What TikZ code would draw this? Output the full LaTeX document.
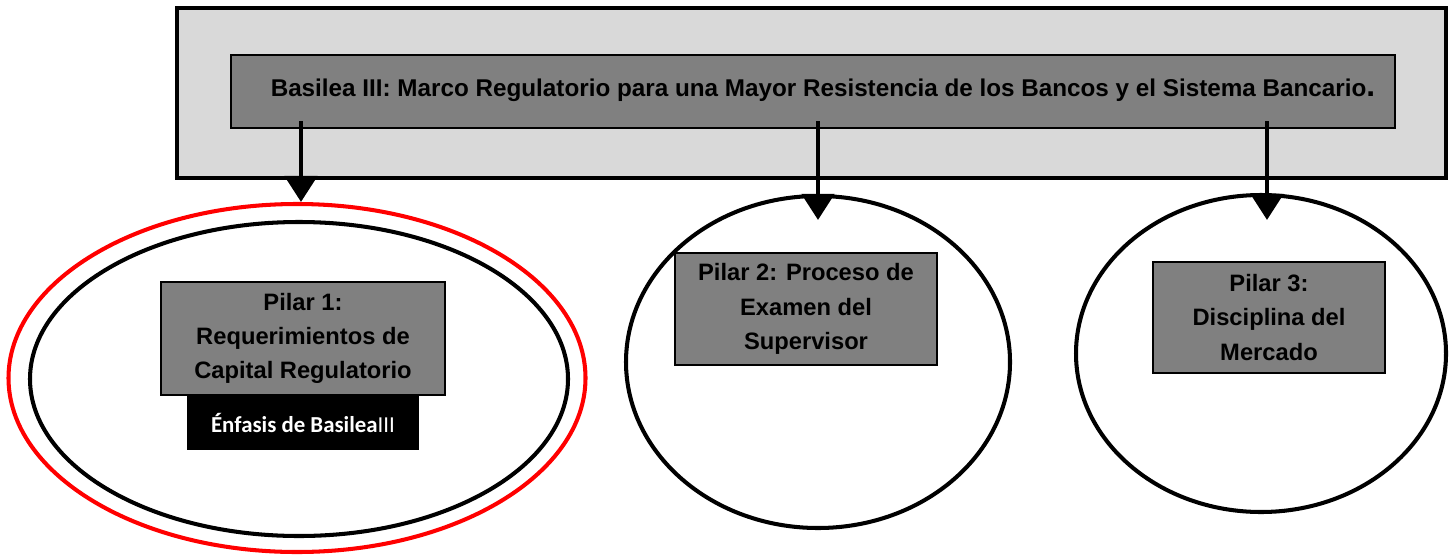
\documentclass[tikz,border=0pt]{standalone}
\usepackage{fontspec}
\setmainfont{Liberation Sans}
\newfontfamily\calfont{Carlito}
\usetikzlibrary{shapes.geometric,arrows.meta,positioning}
\definecolor{panelgray}{HTML}{D9D9D9}
\definecolor{boxgray}{HTML}{808080}
\tikzset{
  pilarbox/.style={draw,fill=boxgray,line width=0.6pt,align=center,inner sep=0pt,
    font=\fontsize{13.5}{19.5}\selectfont\bfseries},
  pilarring/.style={draw,ellipse,line width=2.3pt,inner sep=0pt},
  bigarrow/.style={line width=2.8pt,-{Triangle[width=0.64cm,length=0.52cm]}}
}
\begin{document}
\begin{tikzpicture}
\useasboundingbox (0,0) rectangle (29.02,-11.08);
% marco superior
\draw [fill=panelgray,line width=2.8pt] (3.54,-0.16) rectangle (28.92,-3.56);
\node (basilea) [pilarbox,minimum width=23.28cm,minimum height=1.46cm] at (16.26,-1.83)
  {\fontsize{13.8}{16}\selectfont\hspace*{0.4cm}\raisebox{4pt}{Basilea III: Marco Regulatorio para una Mayor Resistencia de los Bancos y el Sistema Bancario\fontsize{18}{18}\selectfont.}};
% pilares
\node (ring1) [pilarring,red,minimum width=11.54cm,minimum height=6.96cm] at (5.94,-7.56) {};
\node (core1) [pilarring,minimum width=10.76cm,minimum height=6.28cm] at (5.98,-7.58) {};
\node (ring2) [pilarring,minimum width=7.68cm,minimum height=6.64cm] at (16.36,-7.24) {};
\node (ring3) [pilarring,minimum width=7.40cm,minimum height=6.34cm] at (25.22,-7.07) {};
\node (pilar1) [pilarbox,minimum width=5.68cm,minimum height=2.26cm] at (6.06,-6.77)
  {Pilar 1:\\Requerimientos de\\Capital Regulatorio};
\node (enfasis) [fill=black,text=white,minimum width=4.64cm,minimum height=1.08cm,inner sep=0pt,below=0pt of pilar1.south]
  {\calfont\fontsize{13}{15}\selectfont\bfseries Énfasis de Basilea\mdseries III};
\node (pilar2) [pilarbox,minimum width=5.24cm,minimum height=2.24cm] at (16.12,-6.18)
  {Pilar 2: Proceso de\\Examen del\\Supervisor};
\node (pilar3) [pilarbox,minimum width=4.64cm,minimum height=2.22cm] at (25.38,-6.35)
  {Pilar 3:\\Disciplina del\\Mercado};
% flechas
\coordinate (from1) at (6.02,-2.42);
\coordinate (from2) at (16.36,-2.42);
\coordinate (from3) at (25.34,-2.42);
\draw [bigarrow] (from1) -- (from1 |- ring1.north);
\draw [bigarrow,shorten >=-0.52cm] (from2) -- (from2 |- ring2.north);
\draw [bigarrow,shorten >=-0.54cm] (from3) -- (from3 |- ring3.north);
\end{tikzpicture}
\end{document}
